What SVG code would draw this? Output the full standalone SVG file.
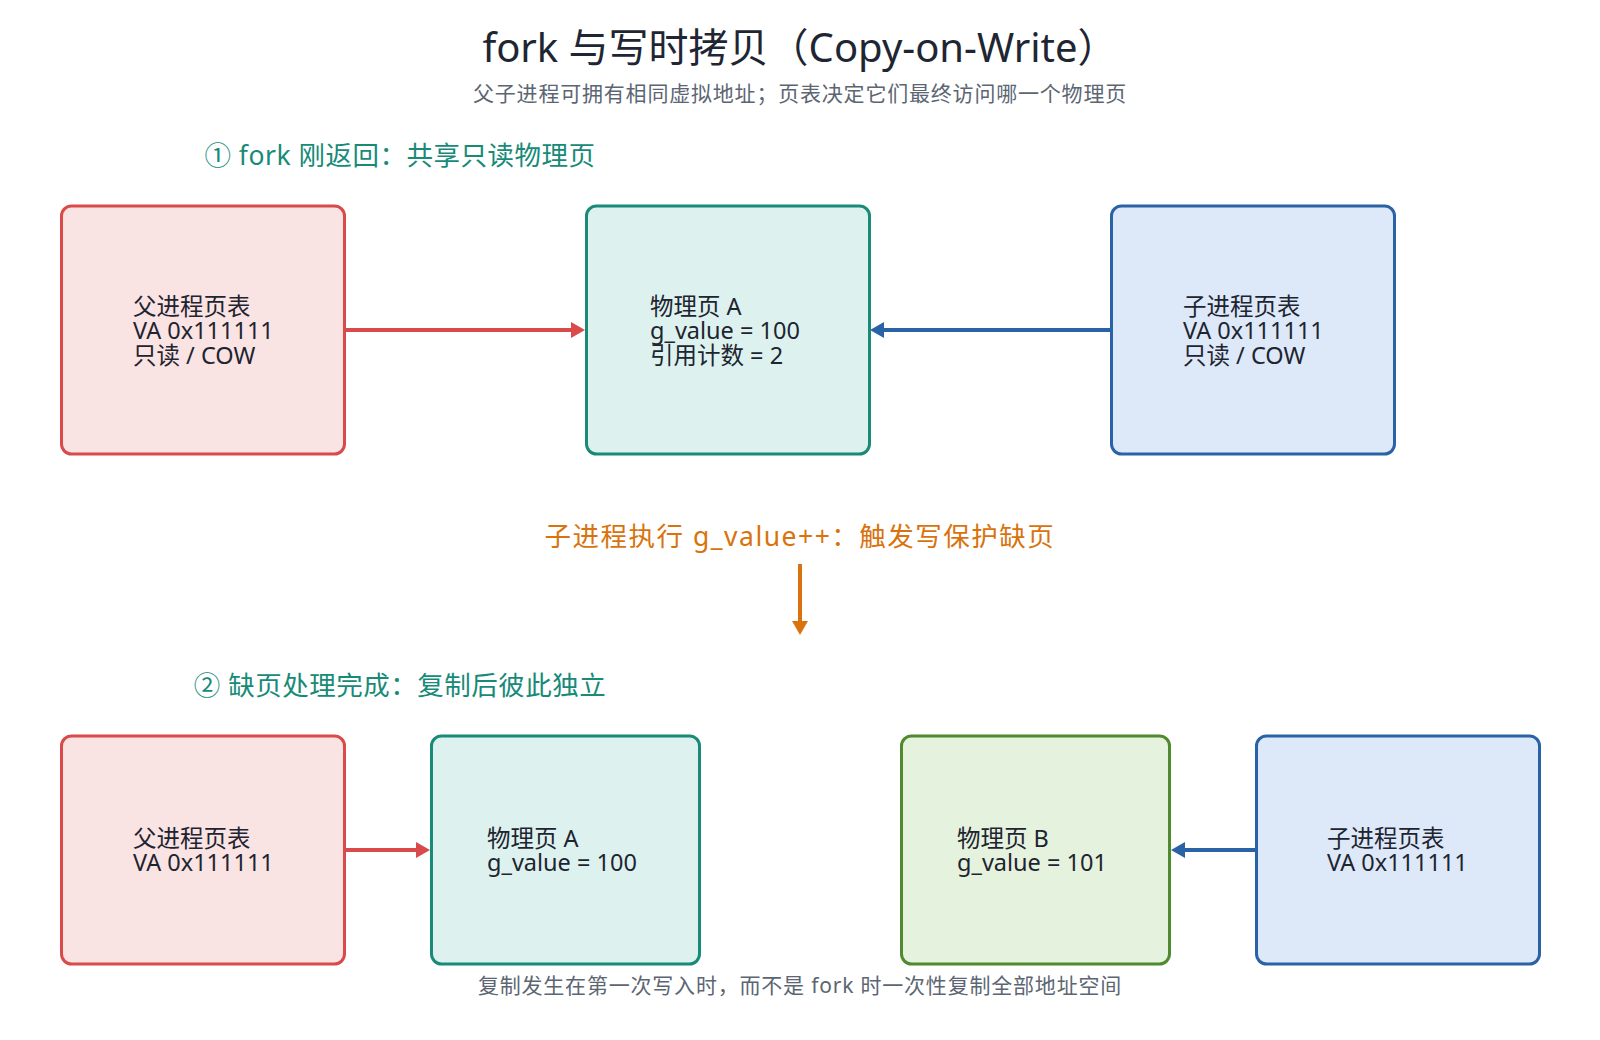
<svg xmlns="http://www.w3.org/2000/svg" width="1600" height="1040" viewBox="0 0 1600 1040">
  <defs>
    <style>
      text { font-family: "Noto Sans", "Noto Sans CJK SC", sans-serif; }
      .title { font-size: 40px; fill: #1f2633; text-anchor: middle; }
      .sub { font-size: 21px; fill: #5c6673; text-anchor: middle; letter-spacing: 0.8px; }
      .sec { font-size: 26.5px; fill: #178a78; text-anchor: middle; letter-spacing: 0.5px; }
      .evt { font-size: 26.5px; fill: #d9730d; text-anchor: middle; letter-spacing: 1.5px; }
      .lbl { font-size: 23.5px; fill: #1e2430; }
      .box { stroke-width: 3; }
      .red { fill: #fae3e3; stroke: #d94a4a; }
      .teal { fill: #ddf2ef; stroke: #178a78; }
      .blue { fill: #dde9f8; stroke: #2a62a6; }
      .green { fill: #e5f2dd; stroke: #4f8a2e; }
      .edge { fill: none; stroke-width: 4; }
    </style>
    <marker id="ah-red" markerUnits="userSpaceOnUse" markerWidth="14" markerHeight="16" refX="4" refY="8" orient="auto">
      <path d="M0,0 L14,8 L0,16 Z" fill="#d94a4a"/>
    </marker>
    <marker id="ah-blue" markerUnits="userSpaceOnUse" markerWidth="14" markerHeight="16" refX="4" refY="8" orient="auto">
      <path d="M0,0 L14,8 L0,16 Z" fill="#2a62a6"/>
    </marker>
    <marker id="ah-orange" markerUnits="userSpaceOnUse" markerWidth="14" markerHeight="16" refX="4" refY="8" orient="auto">
      <path d="M0,0 L14,8 L0,16 Z" fill="#d9730d"/>
    </marker>
  </defs>

  <rect width="1600" height="1040" fill="#ffffff"/>

  <g id="titles">
    <text class="title" x="800" y="62">fork 与写时拷贝（Copy-on-Write）</text>
    <text class="sub" x="800" y="101">父子进程可拥有相同虚拟地址；页表决定它们最终访问哪一个物理页</text>
    <text class="sec" x="400" y="165">① fork 刚返回：共享只读物理页</text>
    <text class="evt" x="800" y="546">子进程执行 g_value++：触发写保护缺页</text>
    <text class="sec" x="400" y="695">② 缺页处理完成：复制后彼此独立</text>
    <text class="sub" x="800" y="993">复制发生在第一次写入时，而不是 fork 时一次性复制全部地址空间</text>
  </g>

  <g id="connectors">
    <path class="edge" d="M345,330 L575,330" stroke="#d94a4a" marker-end="url(#ah-red)"/>
    <path class="edge" d="M1111,330 L880,330" stroke="#2a62a6" marker-end="url(#ah-blue)"/>
    <path class="edge" d="M800,564 L800,625" stroke="#d9730d" marker-end="url(#ah-orange)"/>
    <path class="edge" d="M345,850 L420,850" stroke="#d94a4a" marker-end="url(#ah-red)"/>
    <path class="edge" d="M1256,850 L1181,850" stroke="#2a62a6" marker-end="url(#ah-blue)"/>
  </g>

  <g id="parent-pt-1">
    <rect class="box red" x="61.5" y="206" width="283" height="248" rx="10"/>
    <text class="lbl" x="133" y="314.5">父进程页表</text>
    <text class="lbl" x="133" y="339">VA 0x111111</text>
    <text class="lbl" x="133" y="363.5">只读 / COW</text>
  </g>

  <g id="phys-a-1">
    <rect class="box teal" x="586.5" y="206" width="283" height="248" rx="10"/>
    <text class="lbl" x="650" y="314.5">物理页 A</text>
    <text class="lbl" x="650" y="339">g_value = 100</text>
    <text class="lbl" x="650" y="363.5">引用计数 = 2</text>
  </g>

  <g id="child-pt-1">
    <rect class="box blue" x="1111.5" y="206" width="283" height="248" rx="10"/>
    <text class="lbl" x="1183" y="314.5">子进程页表</text>
    <text class="lbl" x="1183" y="339">VA 0x111111</text>
    <text class="lbl" x="1183" y="363.5">只读 / COW</text>
  </g>

  <g id="parent-pt-2">
    <rect class="box red" x="61.5" y="736" width="283" height="228" rx="10"/>
    <text class="lbl" x="133" y="846.5">父进程页表</text>
    <text class="lbl" x="133" y="871">VA 0x111111</text>
  </g>

  <g id="phys-a-2">
    <rect class="box teal" x="431.5" y="736" width="268" height="228" rx="10"/>
    <text class="lbl" x="487" y="846.5">物理页 A</text>
    <text class="lbl" x="487" y="871">g_value = 100</text>
  </g>

  <g id="phys-b-2">
    <rect class="box green" x="901.5" y="736" width="268" height="228" rx="10"/>
    <text class="lbl" x="957" y="846.5">物理页 B</text>
    <text class="lbl" x="957" y="871">g_value = 101</text>
  </g>

  <g id="child-pt-2">
    <rect class="box blue" x="1256.5" y="736" width="283" height="228" rx="10"/>
    <text class="lbl" x="1327" y="846.5">子进程页表</text>
    <text class="lbl" x="1327" y="871">VA 0x111111</text>
  </g>
</svg>
